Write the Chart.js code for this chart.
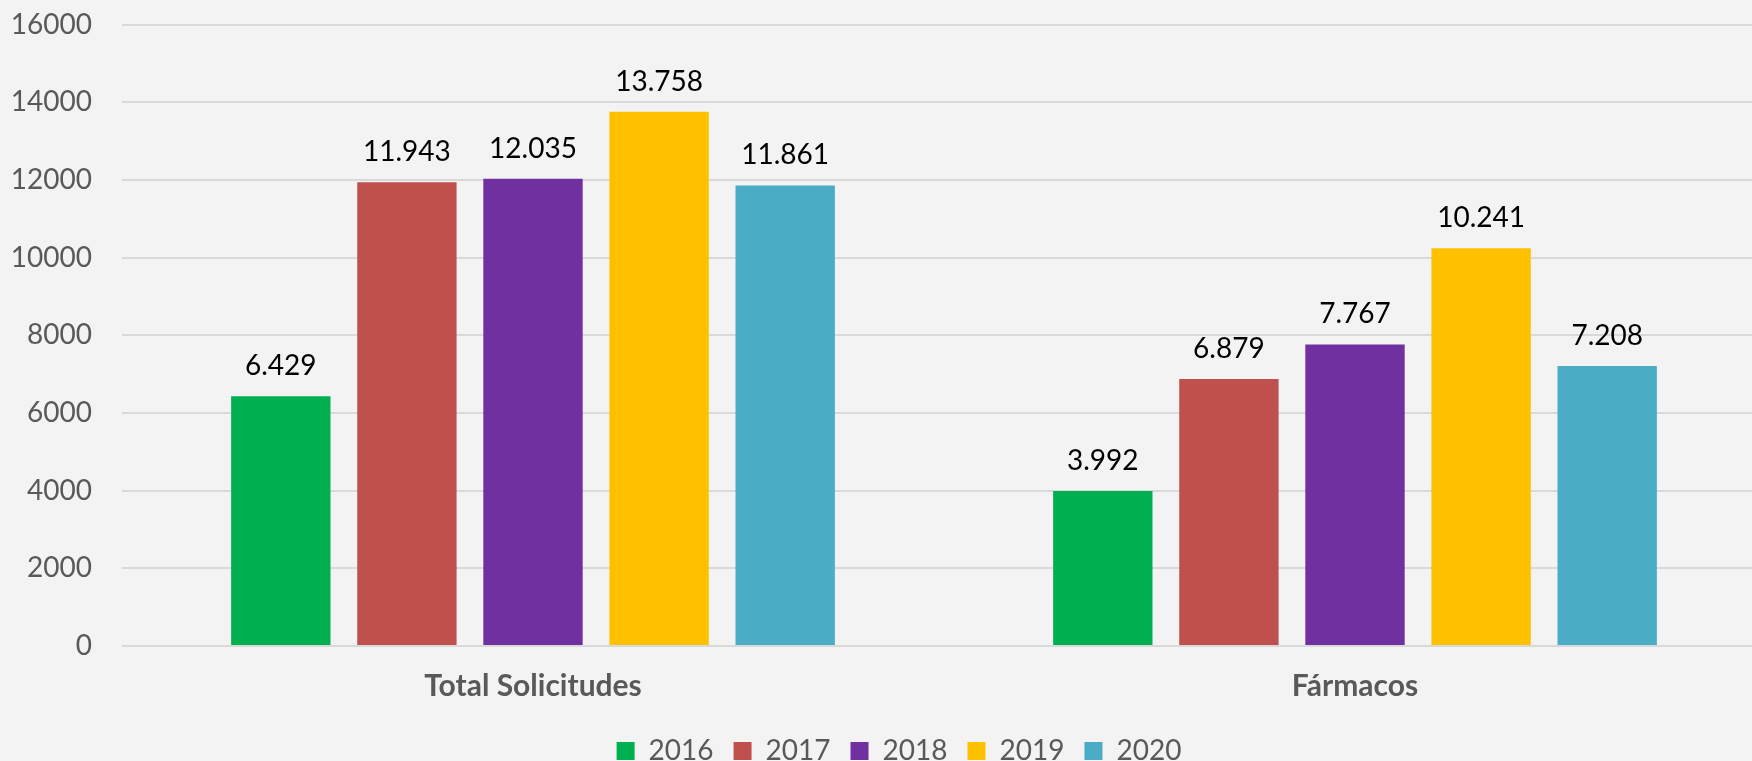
<!DOCTYPE html>
<html>
<head>
<meta charset="utf-8">
<script src="https://cdn.jsdelivr.net/npm/chart.js@4.4.1/dist/chart.umd.min.js"></script>
<style>
  html, body { margin: 0; padding: 0; background: #f3f3f3; overflow: hidden; }
  #wrap { width: 1752px; height: 761px; overflow: hidden; position: relative; }
  #box { width: 1766px; height: 761px; position: absolute; left: 0; top: 0; }
</style>
</head>
<body>
<div id="wrap"><div id="box"><canvas id="c"></canvas></div></div>
<script>
const categories = ['Total Solicitudes', 'Fármacos'];
const years = ['2016', '2017', '2018', '2019', '2020'];
const values2016 = [6429, 3992];
const values2017 = [11943, 6879];
const values2018 = [12035, 7767];
const values2019 = [13758, 10241];
const values2020 = [11861, 7208];
const yTicks = [0, 2000, 4000, 6000, 8000, 10000, 12000, 14000, 16000];
const colors = ['#00b050', '#c0504d', '#7030a0', '#ffc000', '#4bacc6'];
const seriesValues = [values2016, values2017, values2018, values2019, values2020];

const FONT = 'Lato, "Open Sans", sans-serif';

function fmt(v) {
  const s = String(Math.round(v));
  return s.replace(/\B(?=(\d{3})+(?!\d))/g, '.');
}

const valueLabels = {
  id: 'valueLabels',
  afterDatasetsDraw(chart) {
    const ctx = chart.ctx;
    ctx.save();
    ctx.font = '28px ' + FONT;
    ctx.fillStyle = '#000000';
    ctx.textAlign = 'center';
    ctx.textBaseline = 'alphabetic';
    chart.data.datasets.forEach((ds, i) => {
      const meta = chart.getDatasetMeta(i);
      meta.data.forEach((el, j) => {
        ctx.fillText(fmt(ds.data[j]), el.x, el.y - 21);
      });
    });
    ctx.restore();
  }
};

const legendShift = {
  id: 'legendShift',
  afterLayout(chart) {
    if (chart.legend) { chart.legend.left += 16; chart.legend.right += 16; }
  }
};

new Chart(document.getElementById('c'), {
  type: 'bar',
  data: {
    labels: categories,
    datasets: years.map((y, i) => ({
      label: y,
      data: seriesValues[i],
      backgroundColor: colors[i],
      borderWidth: 0,
      categoryPercentage: 0.767,
      barPercentage: 0.788
    }))
  },
  options: {
    responsive: true,
    maintainAspectRatio: false,
    animation: false,
    layout: { padding: { top: 0, right: 0, bottom: -14, left: 0 } },
    plugins: {
      legend: {
        position: 'bottom',
        labels: {
          font: { family: FONT, size: 28 },
          color: '#595959',
          boxWidth: 18,
          boxHeight: 18,
          padding: 20
        }
      },
      tooltip: { enabled: false }
    },
    scales: {
      x: {
        afterFit(scale) { scale.height = 71; },
        grid: { display: false, drawTicks: false },
        border: { display: false },
        ticks: {
          font: { family: FONT, size: 30, weight: 'bold' },
          color: '#595959',
          padding: 22
        }
      },
      y: {
        min: 0,
        max: 16000,
        afterBuildTicks(scale) { scale.ticks = yTicks.map(v => ({ value: v })); },
        afterFit(scale) {
          scale.width = 122;
          scale.paddingTop = 24.7;
          scale.paddingBottom = 0;
        },
        grid: { color: '#d9d9d9', lineWidth: 2, drawTicks: false },
        border: { display: false },
        ticks: {
          font: { family: FONT, size: 28 },
          color: '#595959',
          padding: 30,
          callback: (v) => String(v)
        }
      }
    }
  },
  plugins: [valueLabels, legendShift]
});
</script>
</body>
</html>
